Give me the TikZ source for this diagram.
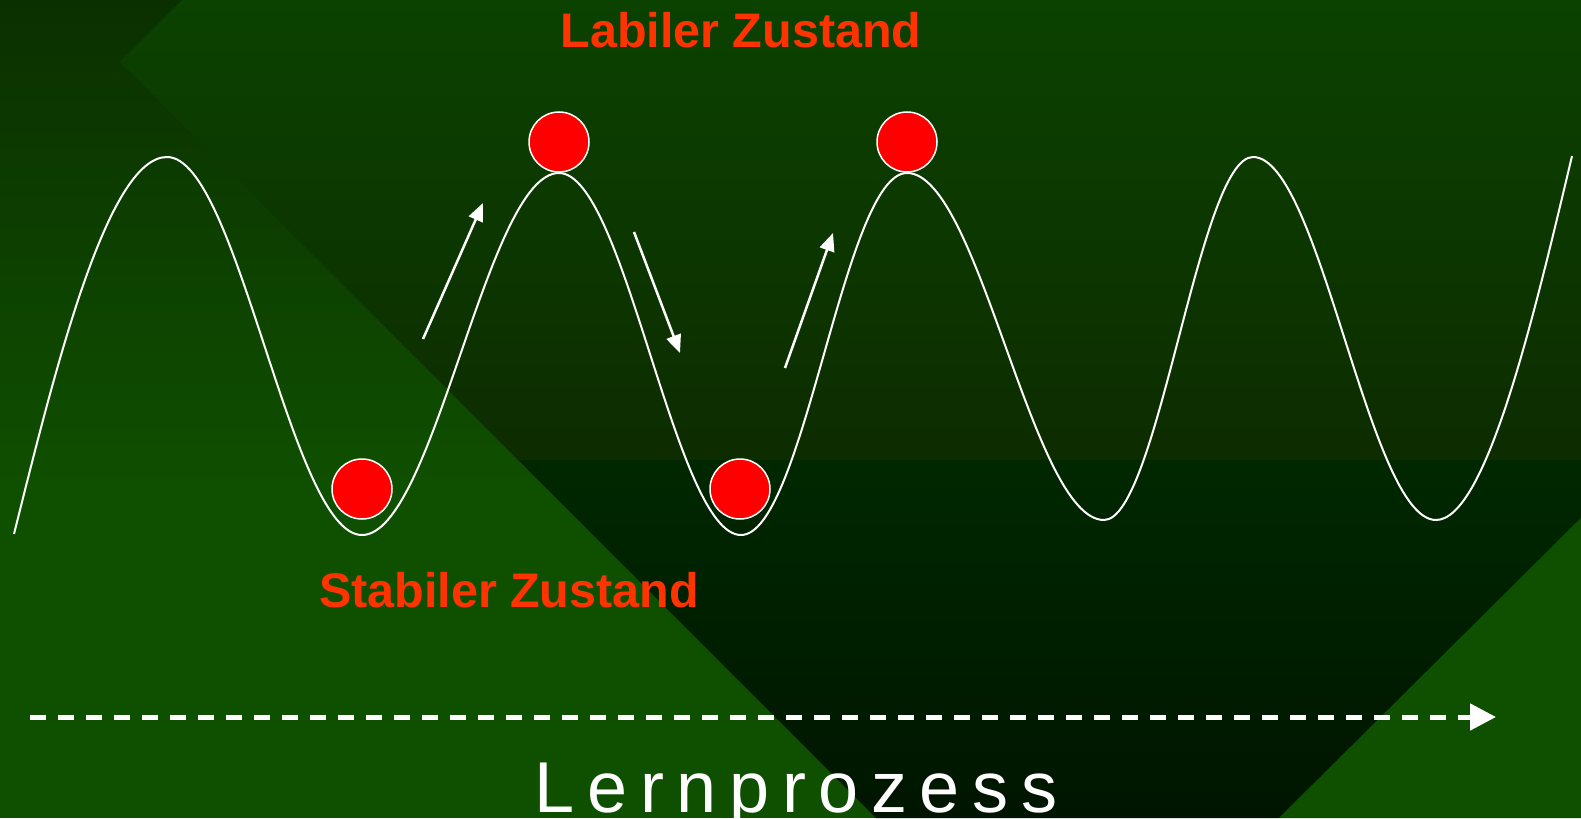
\documentclass[tikz,border=0pt]{standalone}
\usepackage{fontspec}
\setmainfont{Liberation Sans}
\usetikzlibrary{arrows.meta}
\definecolor{leftTop}{HTML}{0B3000}
\definecolor{leftBot}{HTML}{0F5000}
\definecolor{chevTop}{HTML}{0B4200}
\definecolor{chevMidA}{HTML}{0D2C00}
\definecolor{chevMidB}{HTML}{002800}
\definecolor{chevBot}{HTML}{001500}
\definecolor{triCol}{HTML}{0F5000}
\definecolor{lblRed}{HTML}{FF3300}
\definecolor{ballRed}{HTML}{FF0000}
\tikzset{
  lbl/.style={inner sep=0pt, anchor=base, text=lblRed, font=\fontsize{48.5bp}{58bp}\selectfont\bfseries},
  ball/.style={circle, minimum size=60bp, inner sep=0pt, fill=ballRed, draw=white, line width=1.5bp},
  wave/.style={draw=white, line width=2bp},
  motion/.style={draw=white, line width=2.5bp, -{Triangle[length=18bp,width=15bp]}},
  timeline/.style={draw=white, line width=5bp, dash pattern=on 16bp off 12bp, -{Triangle[length=26bp,width=26bp]}}
}
\begin{document}
\begin{tikzpicture}[x=1bp,y=-1bp]
\useasboundingbox (0,0) rectangle (1581,818);
% background
\shade[top color=leftTop, bottom color=leftBot] (0,0) rectangle (1581,500);
\fill[leftBot] (0,499) rectangle (1581,818);
\begin{scope}
  \clip (182,0) -- (1581,0) -- (1581,518) -- (1279,818) -- (876,818) -- (120,62) -- cycle;
  \shade[top color=chevTop, bottom color=chevMidA] (0,0) rectangle (1581,460);
  \shade[top color=chevMidB, bottom color=chevBot] (0,460) rectangle (1581,818);
\end{scope}
\fill[triCol] (1581,518) -- (1581,818) -- (1279,818) -- cycle;
% wave
\coordinate (w0) at (14,534);
\coordinate (p1) at (167,157);
\coordinate (t1) at (362,535);
\coordinate (p2) at (559,173);
\coordinate (t2) at (741,535);
\coordinate (p3) at (907,173);
\coordinate (t3) at (1104,520);
\coordinate (p4) at (1253,157);
\coordinate (t4) at (1436,520);
\coordinate (w9) at (1572,156);
\path[wave] (w0) .. controls (54,374) and (107,157) .. (p1)
  .. controls (238,157) and (291,535) .. (t1)
  .. controls (434,535) and (487,173) .. (p2)
  .. controls (625,173) and (675,535) .. (t2)
  .. controls (804,535) and (844,173) .. (p3)
  .. controls (979,173) and (1032,520) .. (t3)
  .. controls (1158,520) and (1199,157) .. (p4)
  .. controls (1320,157) and (1369,520) .. (t4)
  .. controls (1486,520) and (1534,316) .. (w9);
% balls
\node[ball] (b1) at (362,489) {};
\node[ball] (b2) at (559,142) {};
\node[ball] (b3) at (907,142) {};
\node[ball] (b4) at (740,489) {};
% motion arrows
\coordinate (a1s) at (423,339); \coordinate (a1e) at (483,203);
\coordinate (a2s) at (634,232); \coordinate (a2e) at (680,353);
\coordinate (a3s) at (785,368); \coordinate (a3e) at (833,233);
\draw[motion] (a1s) -- (a1e);
\draw[motion] (a2s) -- (a2e);
\draw[motion] (a3s) -- (a3e);
% labels
\node[lbl] (lab) at (741,48) {Labiler Zustand};
\node[lbl] (stab) at (509,607) {Stabiler Zustand};
% timeline
\coordinate (ls) at (30,717);
\coordinate (le) at (1496,717);
\draw[timeline] (ls) -- (le);
\node[inner sep=0pt, anchor=base, text=white, font=\fontsize{72bp}{80bp}\selectfont\addfontfeature{LetterSpace=17.5}] (lern) at (796,812) {Lernprozess};
\end{tikzpicture}
\end{document}
